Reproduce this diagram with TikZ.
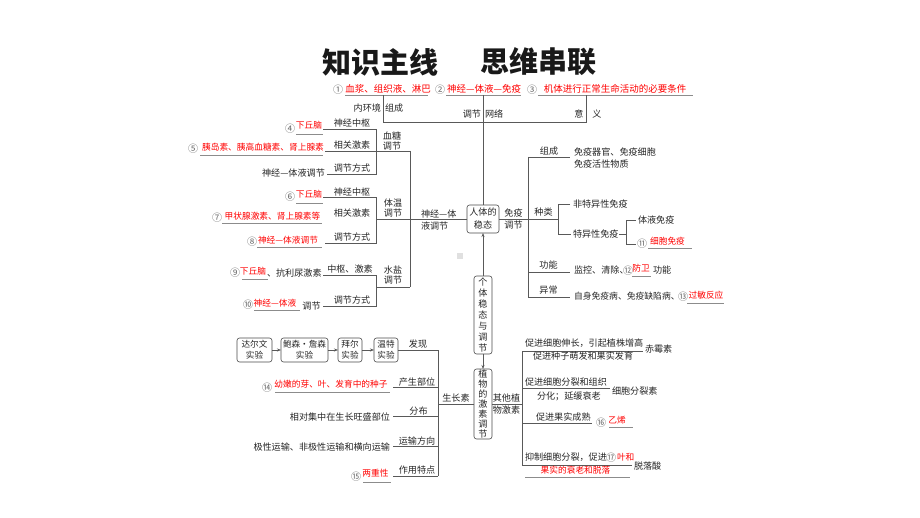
\documentclass[tikz,border=0pt]{standalone}
\usepackage{fontspec}
\newfontfamily\cjk{Noto Sans CJK SC}
\usetikzlibrary{arrows.meta}
\begin{document}
\begin{tikzpicture}[x=1pt,y=-1pt,
  every node/.style={inner sep=0pt, outer sep=0pt},
  txt/.style={font=\cjk\fontsize{9.1}{11}\selectfont, text=black!85},
  ans/.style={font=\cjk\fontsize{8.7}{11}\selectfont, text=red},
  anstop/.style={font=\cjk\fontsize{9.5}{11}\selectfont, text=red},
  num/.style={font=\cjk\fontsize{10}{11}\selectfont, text=black!60},
  ln/.style={draw=black!65, line width=0.6pt},
  uln/.style={draw=black!45, line width=0.6pt},
  rbox/.style={draw=black!70, line width=0.6pt, rounded corners=2.5pt},
  dbox/.style={rbox, font=\cjk\fontsize{8.6}{11}\selectfont, text=black!85, align=center, minimum height=24pt},
  vbox/.style={rbox, text=black!85, align=center, minimum width=18pt},
  arr/.style={ln, -{Stealth[length=4pt,width=3pt]}},
]
\fill[white] (0,0) rectangle (920,518);
\useasboundingbox (0,0) rectangle (920,518);

% title
\node[font=\cjk\bfseries\fontsize{29}{30}\selectfont, text=black!90] (t1) at (380,62) {知识主线};
\node[font=\cjk\bfseries\fontsize{29}{30}\selectfont, text=black!90] (t2) at (538,62) {思维串联};

% top row
\node[num] (c1) at (338,90) {①};
\node[anstop] (a1) at (388,89) {血浆、组织液、淋巴};
\draw[uln] (345,95) -- (428,95);
\node[num] (c2) at (440,90) {②};
\node[anstop] (a2) at (484,89) {神经—体液—免疫};
\draw[uln] (446,95) -- (521,95);
\node[num] (c3) at (532,90) {③};
\node[anstop] (a3) at (615,89) {机体进行正常生命活动的必要条件};
\draw[uln] (538,95) -- (693,95);

% central box
\node[rbox, txt, align=center, minimum width=32pt, minimum height=28pt,
      font=\cjk\fontsize{9.1}{13}\selectfont] (hb) at (483,219) {人体的\\稳态};

% top bracket
\coordinate (ta) at (383,95);
\coordinate (tb) at (483,95);
\coordinate (tc) at (586,95);
\draw[ln] (ta) -- (383,122) -- (586,122) -- (tc);
\draw[ln] (tb) -- (hb.north);
\node[txt, anchor=east] (nhj) at (381,108) {内环境};
\node[txt, anchor=west] (nzc) at (385,108) {组成};
\node[txt, anchor=east] (ntj) at (481,114) {调节};
\node[txt, anchor=west] (nwl) at (485,114) {网络};
\node[txt] (nyi) at (579,114) {意};
\node[txt] (nyy) at (597,114) {义};

% left: nerve-humoral regulation
\draw[ln] (hb.west) -- (376,219);
\draw[ln] (410,151) -- (410,287);
\node[txt, anchor=west, align=left, font=\cjk\fontsize{9.1}{11.5}\selectfont] (sjtj) at (421,219.8) {神经—体\\液调节};

% blood sugar
\draw[ln] (323,129) -- (376,129) -- (376,174) -- (327,174);
\draw[ln] (325,151) -- (410,151);
\node[txt, align=center, font=\cjk\fontsize{9.1}{10}\selectfont] (xt) at (392,141) {血糖\\调节};
\node[txt] (xt1) at (352,123.5) {神经中枢};
\node[txt] (xt2) at (352,145) {相关激素};
\node[txt] (xt3) at (352,168) {调节方式};
\node[num] (c4) at (290,129) {④};
\node[ans] (a4) at (309,125.5) {下丘脑};
\draw[uln] (296,134) -- (323,134);
\node[num] (c5) at (193,149) {⑤};
\node[ans] (a5) at (263,147) {胰岛素、胰高血糖素、肾上腺素};
\draw[uln] (200,155) -- (323,155);
\node[txt] (xt4) at (293.5,173) {神经—体液调节};

% body temperature
\draw[ln] (323,197) -- (376,197) -- (376,243) -- (325,243);
\node[txt, align=center, font=\cjk\fontsize{9.1}{10}\selectfont] (tw) at (393,208.5) {体温\\调节};
\node[txt] (tw1) at (352,192) {神经中枢};
\node[txt] (tw2) at (352,213) {相关激素};
\node[txt] (tw3) at (352,237) {调节方式};
\node[num] (c6) at (290,197) {⑥};
\node[ans] (a6) at (309,194) {下丘脑};
\draw[uln] (296,203) -- (323,203);
\node[num] (c7) at (217,218) {⑦};
\node[ans] (a7) at (272.5,216) {甲状腺激素、肾上腺素等};
\draw[uln] (222,223) -- (322,223);
\node[num] (c8) at (252,242) {⑧};
\node[ans] (a8) at (288,240) {神经—体液调节};
\draw[uln] (257,247) -- (322,247);

% water-salt
\draw[ln] (323,275) -- (376,275) -- (376,306) -- (323,306);
\draw[ln] (376,287) -- (410,287);
\node[txt, align=center, font=\cjk\fontsize{9.1}{10}\selectfont] (sy) at (393,275) {水盐\\调节};
\node[txt] (sy1) at (350,269.5) {中枢、激素};
\node[txt] (sy2) at (352,300.5) {调节方式};
\node[num] (c9) at (235,273) {⑨};
\node[ans] (a9) at (253,271) {下丘脑};
\draw[uln] (242,279) -- (268,279);
\node[txt, anchor=west] (sy3) at (267,273) {、抗利尿激素};
\node[num] (c10) at (248,305) {⑩};
\node[ans] (a10) at (275,303) {神经—体液};
\draw[uln] (254,310) -- (300,310);
\node[txt] (sy4) at (311.5,306) {调节};

% right: immune regulation
\draw[ln] (hb.east) -- (558,219);
\draw[ln] (528,157) -- (528,297.5);
\draw[ln] (528,157) -- (570,157);
\draw[ln] (528,272) -- (570,272);
\draw[ln] (528,297.5) -- (570,297.5);
\draw[ln] (570,204) -- (558,204) -- (558,234) -- (571,234);
\draw[ln] (619,234) -- (626,234);
\draw[ln] (636,220) -- (626,220) -- (626,244) -- (636,244);
\node[txt, align=center, font=\cjk\fontsize{9.1}{12.5}\selectfont] (my) at (513.5,218.8) {免疫\\调节};
\node[txt] (my1) at (549,151) {组成};
\node[txt, anchor=west] (my1a) at (574,152) {免疫器官、免疫细胞};
\node[txt, anchor=west] (my1b) at (574,164) {免疫活性物质};
\node[txt] (my2) at (543.5,212) {种类};
\node[txt, anchor=west] (my2a) at (573,204) {非特异性免疫};
\node[txt, anchor=west] (my2b) at (573,234.5) {特异性免疫};
\node[txt, anchor=west] (my2c) at (638,220) {体液免疫};
\node[num] (c11) at (642,244) {⑪};
\node[ans] (a11) at (667.5,241) {细胞免疫};
\draw[uln] (648,248) -- (692,248);
\node[txt] (my3) at (548.5,265.5) {功能};
\node[txt, anchor=west] (my3a) at (574,270.5) {监控、清除、};
\node[num] (c12) at (628,270.5) {⑫};
\node[ans] (a12) at (641,268.5) {防卫};
\draw[uln] (632,276) -- (651,276);
\node[txt, anchor=west] (my3b) at (653,270.5) {功能};
\node[txt] (my4) at (548.5,290.5) {异常};
\node[txt, anchor=west, font=\cjk\fontsize{8.8}{11}\selectfont] (my4a) at (574,296.5) {自身免疫病、免疫缺陷病、};
\node[num] (c13) at (683,296.5) {⑬};
\node[ans] (a13) at (706,295) {过敏反应};
\draw[uln] (687,303) -- (724,303);

% centre column
\fill[black!12] (457,253) rectangle (463,259);
\node[vbox, minimum height=78pt, font=\cjk\fontsize{9.1}{11}\selectfont] (gb) at (483,315) {个\\体\\稳\\态\\与\\调\\节};
\node[vbox, minimum height=70pt, font=\cjk\fontsize{9.1}{10}\selectfont] (zb) at (483,404) {植\\物\\的\\激\\素\\调\\节};
\draw[arr] (gb.north) -- (hb.south);
\draw[arr] (gb.south) -- (zb.north);

% auxin
\node[dbox, minimum width=35pt] (d1) at (254.5,350) {达尔文\\实验};
\node[dbox, minimum width=47pt] (d2) at (304.5,350) {鲍森·詹森\\实验};
\node[dbox, minimum width=24pt] (d3) at (350,350) {拜尔\\实验};
\node[dbox, minimum width=24pt] (d4) at (386,350) {温特\\实验};
\draw[arr] (d1) -- (d2);
\draw[arr] (d2) -- (d3);
\draw[arr] (d3) -- (d4);
\draw[ln] (d4.east) -- (438,350) -- (438,476);
\draw[ln] (zb.west) -- (438,404);
\draw[ln] (393,387) -- (438,387);
\draw[ln] (393,416) -- (438,416);
\draw[ln] (393,446) -- (438,446);
\draw[ln] (393,476) -- (438,476);
\node[txt] (szs) at (456,398) {生长素};
\node[txt] (s1) at (418,344.5) {发现};
\node[txt] (s2) at (417,382) {产生部位};
\node[txt] (s3) at (418.5,411) {分布};
\node[txt] (s4) at (417,441) {运输方向};
\node[txt] (s5) at (417,470.5) {作用特点};
\node[num] (c14) at (267,388) {⑭};
\node[ans] (a14) at (331,384) {幼嫩的芽、叶、发育中的种子};
\draw[uln] (275,392) -- (390,392);
\node[txt, anchor=east] (s3a) at (390,417) {相对集中在生长旺盛部位};
\node[txt, anchor=east] (s4a) at (390,447) {极性运输、非极性运输和横向运输};
\node[num] (c15) at (356,477) {⑮};
\node[ans] (a15) at (375.5,473) {两重性};
\draw[uln] (363,482) -- (391,482);

% other plant hormones
\node[txt, align=center, font=\cjk\fontsize{9.1}{12.5}\selectfont] (qt) at (506.5,404) {其他植\\物激素};
\draw[ln] (zb.east) -- (522,404);
\draw[ln] (522,351) -- (522,465);
\draw[ln] (522,351) -- (643,351);
\node[txt, anchor=west] (q1a) at (525,343) {促进细胞伸长，引起植株增高};
\node[txt, anchor=west] (q1b) at (533,356.5) {促进种子萌发和果实发育};
\node[txt, anchor=west] (q1) at (645,349.5) {赤霉素};
\draw[ln] (522,388) -- (610,388);
\node[txt, anchor=west] (q2a) at (525,382) {促进细胞分裂和组织};
\node[txt, anchor=west] (q2b) at (537,396.5) {分化；延缓衰老};
\node[txt, anchor=west] (q2) at (612,391.5) {细胞分裂素};
\draw[ln] (522,423) -- (592,423);
\node[txt, anchor=west] (q3a) at (536,417) {促进果实成熟};
\node[num] (c16) at (601,423) {⑯};
\node[ans] (a16) at (617,420) {乙烯};
\draw[uln] (609,427) -- (633,427);
\draw[ln] (522,465) -- (632,465);
\node[txt, anchor=west] (q4a) at (525,457.5) {抑制细胞分裂，促进};
\node[num] (c17) at (611,457.5) {⑰};
\node[ans, anchor=west] (a17a) at (617,457) {叶和};
\node[txt, anchor=west] (q4) at (634,466) {脱落酸};
\node[ans] (a17b) at (575.5,470.5) {果实的衰老和脱落};
\draw[uln] (525,477) -- (630,477);
\end{tikzpicture}
\end{document}
